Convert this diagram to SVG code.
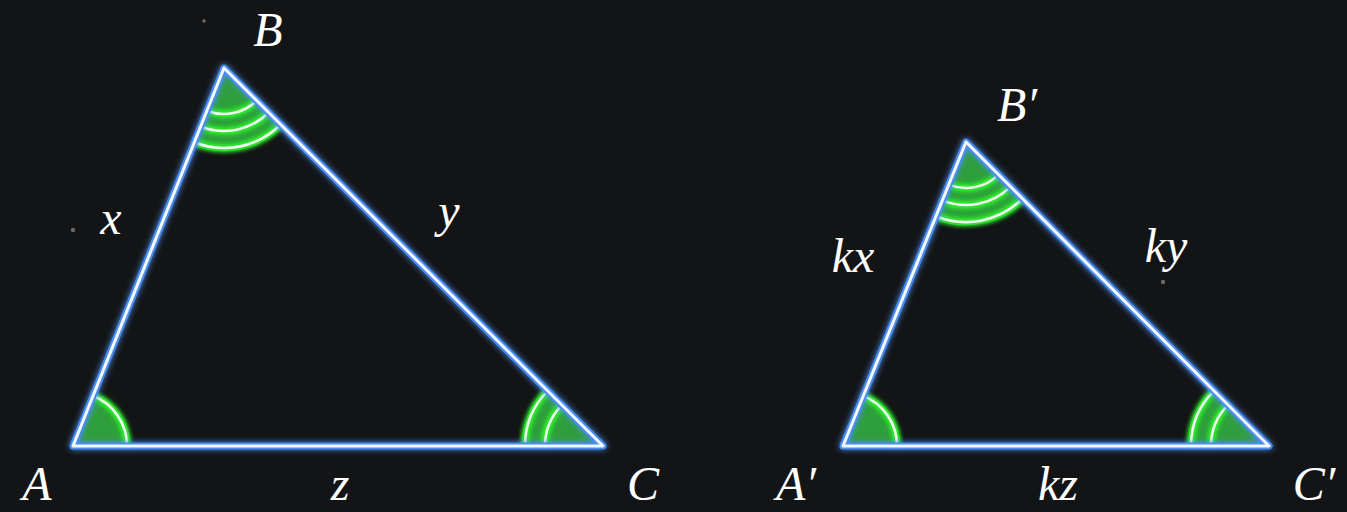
<svg xmlns="http://www.w3.org/2000/svg" width="1347" height="512" viewBox="0 0 1347 512">
<defs>
<filter id="glowB" x="-20%" y="-20%" width="140%" height="140%">
<feGaussianBlur in="SourceGraphic" stdDeviation="3" result="b"/>
<feMerge><feMergeNode in="b"/><feMergeNode in="SourceGraphic"/></feMerge>
</filter>
<filter id="glowG" x="-30%" y="-30%" width="160%" height="160%">
<feGaussianBlur in="SourceGraphic" stdDeviation="2.5" result="b"/>
<feMerge><feMergeNode in="b"/><feMergeNode in="b"/><feMergeNode in="SourceGraphic"/></feMerge>
</filter>
<style>
.edgeO{fill:none;stroke:#4a8df0;stroke-width:7;stroke-linejoin:round;stroke-linecap:round;filter:url(#glowB)}
.edgeI{fill:none;stroke:#f4f8ff;stroke-width:3;stroke-linejoin:round;stroke-linecap:round}
.sector{fill:#2f9e3c;stroke:none}
.arcO{fill:none;stroke:#2ee02e;stroke-width:6.5;filter:url(#glowG)}
.arcI{fill:none;stroke:#f0fff0;stroke-width:2.6}
.lbl{font-family:"Liberation Serif","DejaVu Serif",serif;font-style:italic;font-size:48px;fill:#ffffff;text-anchor:middle}
.dot{fill:#6a6a6a}
</style>
</defs>
<rect width="1347" height="512" fill="#131416"/>
<circle class="dot" cx="204" cy="21" r="1.8"/>
<circle class="dot" cx="73" cy="230" r="2.2"/>
<circle class="dot" cx="1163" cy="282" r="2.2"/>

<g id="angles-left">
<path class="sector" d="M73,446 L127,446 A54,54 0 0 0 93,395.8 Z"/>
<path class="sector" d="M224,68 L194.3,142.3 A80,80 0 0 0 280.6,124.5 Z"/>
<path class="sector" d="M603,446 L525,446 A78,78 0 0 1 547.8,390.9 Z"/>
</g>
<g id="angles-right">
<path class="sector" d="M843,446 L897,446 A54,54 0 0 0 863.3,395.9 Z"/>
<path class="sector" d="M966,142 L936,216.2 A80,80 0 0 0 1022.5,198.6 Z"/>
<path class="sector" d="M1269,446 L1191,446 A78,78 0 0 1 1213.9,390.8 Z"/>
</g>

<g id="arcs">
<g class="arcO">
<path d="M127,446 A54,54 0 0 0 93,395.8"/>
<path d="M194.3,142.3 A80,80 0 0 0 280.6,124.5"/>
<path d="M200.6,126.5 A63,63 0 0 0 268.6,112.5"/>
<path d="M206.9,110.7 A46,46 0 0 0 256.6,100.5"/>
<path d="M525,446 A78,78 0 0 1 547.8,390.9"/>
<path d="M545,446 A58,58 0 0 1 561.9,405.1"/>
<path d="M897,446 A54,54 0 0 0 863.3,395.9"/>
<path d="M936,216.2 A80,80 0 0 0 1022.5,198.6"/>
<path d="M942.4,200.4 A63,63 0 0 0 1010.5,186.6"/>
<path d="M948.75,184.6 A46,46 0 0 0 998.5,174.6"/>
<path d="M1191,446 A78,78 0 0 1 1213.9,390.8"/>
<path d="M1211,446 A58,58 0 0 1 1228.1,404.9"/>
</g>
<g class="arcI">
<path d="M127,446 A54,54 0 0 0 93,395.8"/>
<path d="M194.3,142.3 A80,80 0 0 0 280.6,124.5"/>
<path d="M200.6,126.5 A63,63 0 0 0 268.6,112.5"/>
<path d="M206.9,110.7 A46,46 0 0 0 256.6,100.5"/>
<path d="M525,446 A78,78 0 0 1 547.8,390.9"/>
<path d="M545,446 A58,58 0 0 1 561.9,405.1"/>
<path d="M897,446 A54,54 0 0 0 863.3,395.9"/>
<path d="M936,216.2 A80,80 0 0 0 1022.5,198.6"/>
<path d="M942.4,200.4 A63,63 0 0 0 1010.5,186.6"/>
<path d="M948.75,184.6 A46,46 0 0 0 998.5,174.6"/>
<path d="M1191,446 A78,78 0 0 1 1213.9,390.8"/>
<path d="M1211,446 A58,58 0 0 1 1228.1,404.9"/>
</g>
</g>

<g id="triangle-ABC">
<path class="edgeO" d="M73,446 L224,68 L603,446 Z"/>
<path class="edgeI" d="M73,446 L224,68 L603,446 Z"/>
</g>
<g id="triangle-A1B1C1">
<path class="edgeO" d="M843,446 L966,142 L1269,446 Z"/>
<path class="edgeI" d="M843,446 L966,142 L1269,446 Z"/>
</g>

<g id="labels">
<text class="lbl" x="268" y="46">B</text>
<text class="lbl" x="37" y="500">A</text>
<text class="lbl" x="643" y="500">C</text>
<text class="lbl" x="111" y="234">x</text>
<text class="lbl" x="449" y="227">y</text>
<text class="lbl" x="340" y="500">z</text>
<text class="lbl" x="1017" y="121">B′</text>
<text class="lbl" x="796" y="500">A′</text>
<text class="lbl" x="1314" y="500">C′</text>
<text class="lbl" x="853" y="272">kx</text>
<text class="lbl" x="1166" y="262">ky</text>
<text class="lbl" x="1058" y="500">kz</text>
</g>
</svg>
